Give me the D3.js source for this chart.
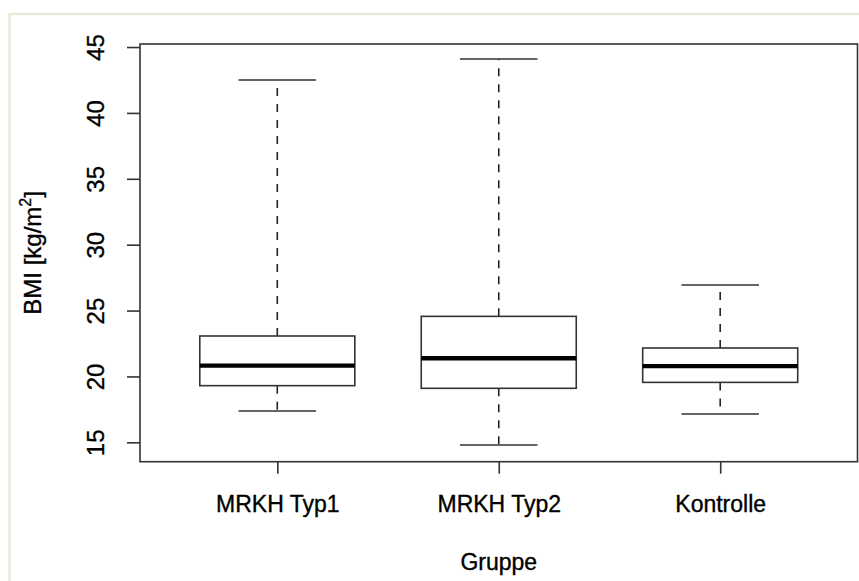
<!DOCTYPE html>
<html>
<head>
<meta charset="utf-8">
<script src="https://cdn.jsdelivr.net/npm/d3@7"></script>
<style>
  html, body { margin: 0; padding: 0; background: #ffffff; }
  svg { display: block; }
  text { font-family: "Liberation Sans", Arial, sans-serif; fill: #000; stroke: #000; stroke-width: 0.35px; }
</style>
</head>
<body>
<svg id="chart" width="859" height="581"></svg>
<script>
// ---- data ----
const categories = ["MRKH Typ1", "MRKH Typ2", "Kontrolle"];
const lowerWhisker = [17.38, 14.80, 17.15];
const q1Values     = [19.30, 19.10, 19.55];
const medianValues = [20.82, 21.38, 20.79];
const q3Values     = [23.07, 24.56, 22.16];
const upperWhisker = [42.50, 44.09, 26.94];
const yTicks = [15, 20, 25, 30, 35, 40, 45];
const xTitle = "Gruppe";
const yTitle = "BMI [kg/m";

const boxes = categories.map((c, i) => ({
  cat: c, lw: lowerWhisker[i], q1: q1Values[i], med: medianValues[i], q3: q3Values[i], uw: upperWhisker[i]
}));

const svg = d3.select("#chart");
const W = 859, H = 581;
const plot = { left: 140, right: 857.5, top: 44, bottom: 461.7 };

// window-like beige frame
svg.append("path")
  .attr("d", `M9.5,${H} V14 H${W}`)
  .attr("fill", "none").attr("stroke", "#ebe8da").attr("stroke-width", 2.5);

const x = d3.scalePoint().domain(categories).range([plot.left, plot.right]).padding(0.62);
const y = d3.scaleLinear().domain([13.53, 45.23]).range([plot.bottom, plot.top]);
const halfBox = x.step() * 0.35;

const g = svg.append("g");

// whiskers (dashed)
g.selectAll("line.wlo").data(boxes).join("line")
  .attr("x1", d => x(d.cat)).attr("x2", d => x(d.cat))
  .attr("y1", d => y(d.q1)).attr("y2", d => y(d.lw))
  .attr("stroke", "#222").attr("stroke-width", 1.6).attr("stroke-dasharray", "8,8");
g.selectAll("line.whi").data(boxes).join("line")
  .attr("x1", d => x(d.cat)).attr("x2", d => x(d.cat))
  .attr("y1", d => y(d.q3)).attr("y2", d => y(d.uw))
  .attr("stroke", "#222").attr("stroke-width", 1.6).attr("stroke-dasharray", "8,8");

// staples
["lw", "uw"].forEach(k => {
  g.selectAll("line.st" + k).data(boxes).join("line")
    .attr("x1", d => x(d.cat) - halfBox / 2).attr("x2", d => x(d.cat) + halfBox / 2)
    .attr("y1", d => y(d[k])).attr("y2", d => y(d[k]))
    .attr("stroke", "#333").attr("stroke-width", 1.6);
});

// boxes
g.selectAll("rect.box").data(boxes).join("rect")
  .attr("x", d => x(d.cat) - halfBox).attr("width", halfBox * 2)
  .attr("y", d => y(d.q3)).attr("height", d => y(d.q1) - y(d.q3))
  .attr("fill", "#fff").attr("stroke", "#333").attr("stroke-width", 1.6);

// medians
g.selectAll("line.med").data(boxes).join("line")
  .attr("x1", d => x(d.cat) - halfBox).attr("x2", d => x(d.cat) + halfBox)
  .attr("y1", d => y(d.med)).attr("y2", d => y(d.med))
  .attr("stroke", "#000").attr("stroke-width", 4.3);

// frame
svg.append("rect")
  .attr("x", plot.left).attr("y", plot.top)
  .attr("width", plot.right - plot.left).attr("height", plot.bottom - plot.top)
  .attr("fill", "none").attr("stroke", "#333").attr("stroke-width", 1.6);

// y axis
const yAxis = svg.append("g").attr("transform", `translate(${plot.left},0)`)
  .call(d3.axisLeft(y).tickValues(yTicks).tickSize(13).tickSizeOuter(0).tickFormat(d3.format("d")));
yAxis.select(".domain").remove();
yAxis.selectAll(".tick line").attr("stroke", "#333").attr("stroke-width", 1.6);
yAxis.selectAll(".tick text")
  .attr("x", null).attr("dy", null)
  .attr("transform", "translate(-36,0) rotate(-90)")
  .attr("text-anchor", "middle")
  .style("font-size", "24px").style("font-family", "'Liberation Sans', Arial, sans-serif").attr("fill", "#000");

// x axis
const xAxis = svg.append("g").attr("transform", `translate(0,${plot.bottom})`)
  .call(d3.axisBottom(x).tickSize(12).tickSizeOuter(0));
xAxis.select(".domain").remove();
xAxis.selectAll(".tick line").attr("stroke", "#333").attr("stroke-width", 1.6);
xAxis.selectAll(".tick text")
  .attr("y", 50.8).attr("dy", null)
  .style("font-size", "23px").style("font-family", "'Liberation Sans', Arial, sans-serif").attr("fill", "#000");

// axis titles
svg.append("text")
  .attr("x", x(categories[1])).attr("y", 570)
  .attr("text-anchor", "middle").style("font-size", "23px")
  .text(xTitle);

const yt = svg.append("text")
  .attr("transform", `translate(41,${(plot.top + plot.bottom) / 2}) rotate(-90)`)
  .attr("text-anchor", "middle").style("font-size", "24px");
yt.append("tspan").text(yTitle);
yt.append("tspan").attr("dy", -10).style("font-size", "16px").text("2");
yt.append("tspan").attr("dy", 10).text("]");
</script>
</body>
</html>
